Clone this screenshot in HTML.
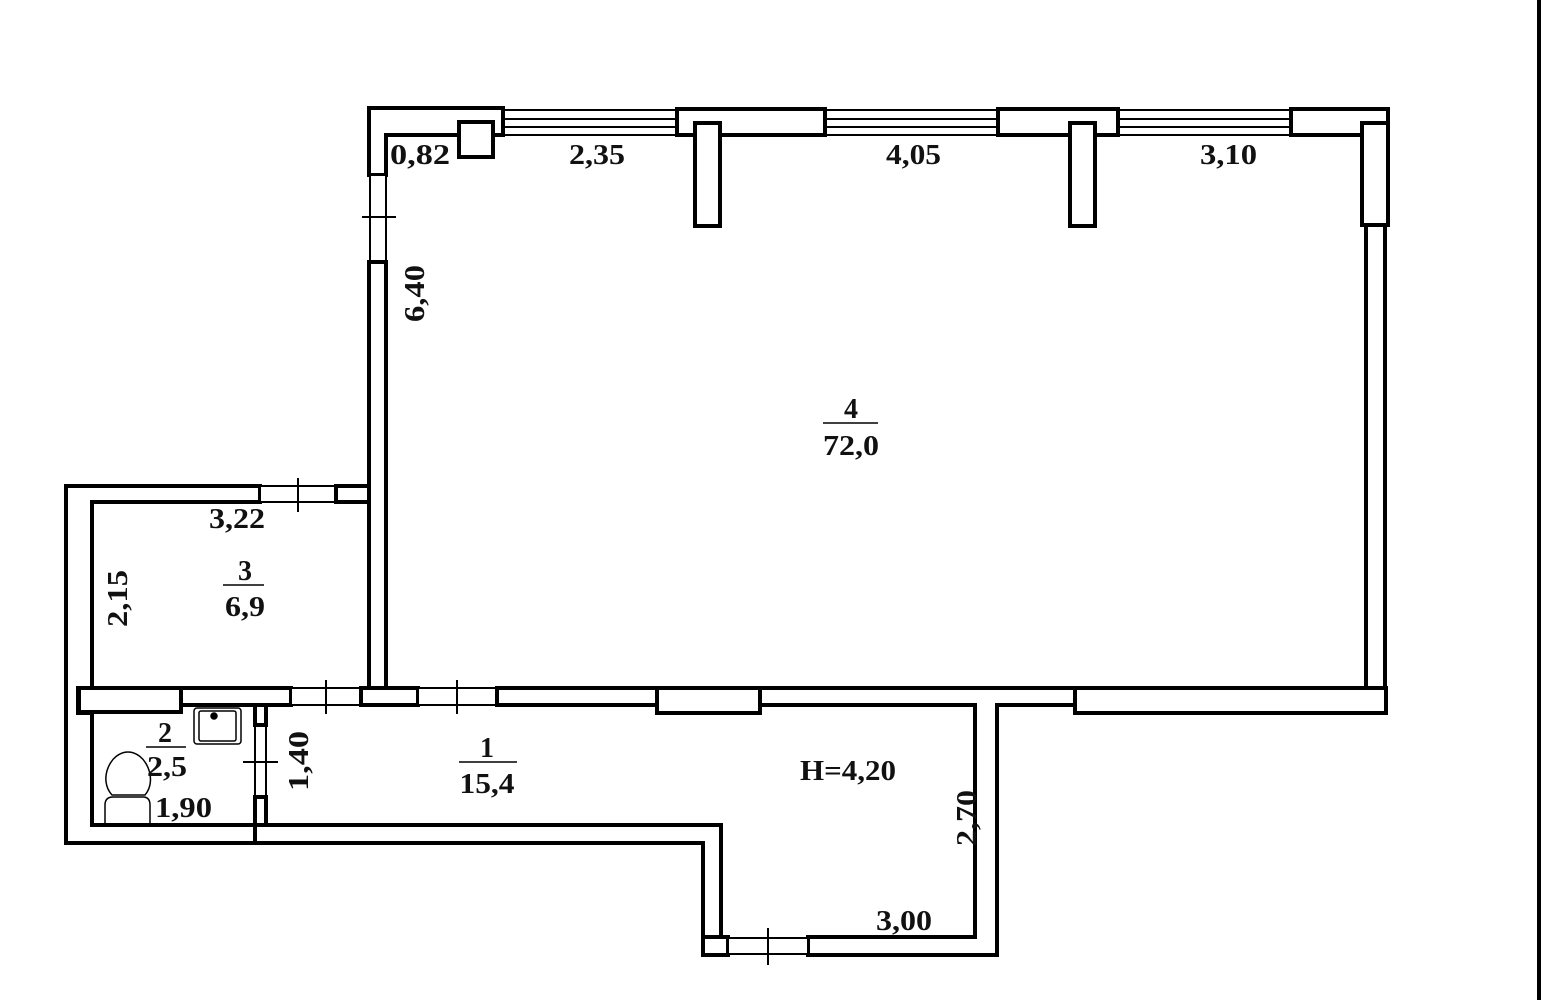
<!DOCTYPE html>
<html><head><meta charset="utf-8"><style>
html,body{margin:0;padding:0;background:#fff;}
svg{display:block}
text{font-family:"Liberation Serif",serif;font-weight:bold;font-size:28px;fill:#111;}
</style></head><body>
<svg width="1545" height="1000" viewBox="0 0 1545 1000">
<rect width="1545" height="1000" fill="#fff"/>
<g fill="#fff" stroke="#000" stroke-width="4">
<g stroke-width="2">
<rect x="503" y="110" width="174" height="25"/><line x1="503" y1="119" x2="677" y2="119"/><line x1="503" y1="127" x2="677" y2="127"/>
<rect x="825" y="110" width="172" height="25"/><line x1="825" y1="119" x2="997" y2="119"/><line x1="825" y1="127" x2="997" y2="127"/>
<rect x="1118" y="110" width="172" height="25"/><line x1="1118" y1="119" x2="1290" y2="119"/><line x1="1118" y1="127" x2="1290" y2="127"/>
</g>
<path d="M369 108 H503 V135 H386 V175 H369 Z"/>
<rect x="459" y="122" width="34" height="35"/>
<rect x="677" y="109" width="148" height="26"/>
<rect x="695" y="123" width="25" height="103"/>
<rect x="998" y="109" width="120" height="26"/>
<rect x="1070" y="123" width="25" height="103"/>
<rect x="1291" y="109" width="97" height="26"/>
<rect x="1362" y="123" width="26" height="102"/>
<g stroke-width="2"><rect x="370" y="175" width="16" height="87"/><line x1="362" y1="217" x2="396" y2="217"/></g>
<path d="M369 262 H386 V688 H369 Z"/>
<path d="M1366 225 H1385 V688 H1366 Z"/>
<path d="M66 486 H260 V502 H92 V688 H78 V713 H92 V825 H255 V843 H66 Z"/>
<g stroke-width="2"><rect x="260" y="486" width="76" height="16"/><line x1="298" y1="478" x2="298" y2="512"/></g>
<path d="M336 486 H369 V502 H336 Z"/>
<rect x="79" y="688" width="102" height="24"/>
<rect x="181" y="688" width="110" height="17"/>
<g stroke-width="2"><rect x="291" y="688" width="70" height="17"/><line x1="326" y1="680" x2="326" y2="714"/></g>
<rect x="361" y="688" width="57" height="17"/>
<g stroke-width="2"><rect x="418" y="688" width="79" height="17"/><line x1="457" y1="680" x2="457" y2="714"/></g>
<rect x="497" y="688" width="160" height="17"/>
<rect x="657" y="688" width="103" height="25"/>
<path d="M760 688 H1075 V705 H997 V955 H808 V937 H975 V705 H760 Z"/>
<rect x="1075" y="688" width="311" height="25"/>
<rect x="255" y="705" width="11" height="20"/>
<rect x="255" y="797" width="11" height="28"/>
<g stroke-width="2"><line x1="255" y1="725" x2="255" y2="797"/><line x1="266" y1="725" x2="266" y2="797"/><line x1="243" y1="762" x2="278" y2="762"/></g>
<path d="M255 825 H721 V955 H703 V843 H255 Z"/>
<rect x="703" y="937" width="25" height="18"/>
<g stroke-width="2"><rect x="728" y="938" width="80" height="16"/><line x1="768" y1="928" x2="768" y2="965"/></g>
</g>
<g fill="none" stroke="#000" stroke-width="1.5">
<rect x="194" y="708" width="47" height="36" rx="3"/>
<rect x="199" y="711" width="37" height="30" rx="2"/>
<circle cx="214" cy="716" r="3" fill="#000"/>
<path d="M112 795 C98 780 110 752 128 752 C146 752 158 780 145 795 Z"/>
<path d="M105 825 V805 Q105 797 113 797 H143 Q150 797 150 805 V825"/>
</g>
<line x1="1539" y1="0" x2="1539" y2="1000" stroke="#000" stroke-width="4"/>
<g lengthAdjust="spacingAndGlyphs">
<text x="390" y="164" textLength="60" lengthAdjust="spacingAndGlyphs">0,82</text>
<text x="569" y="164" textLength="56" lengthAdjust="spacingAndGlyphs">2,35</text>
<text x="886" y="164" textLength="55" lengthAdjust="spacingAndGlyphs">4,05</text>
<text x="1200" y="164" textLength="57" lengthAdjust="spacingAndGlyphs">3,10</text>
<text transform="translate(424,322) rotate(-90)" textLength="57" lengthAdjust="spacingAndGlyphs">6,40</text>
<text x="209" y="528" textLength="56" lengthAdjust="spacingAndGlyphs">3,22</text>
<text transform="translate(127,627) rotate(-90)" textLength="57" lengthAdjust="spacingAndGlyphs">2,15</text>
<text transform="translate(308,791) rotate(-90)" textLength="60" lengthAdjust="spacingAndGlyphs">1,40</text>
<text x="155" y="817" textLength="57" lengthAdjust="spacingAndGlyphs">1,90</text>
<text transform="translate(976,846) rotate(-90)" textLength="56" lengthAdjust="spacingAndGlyphs">2,70</text>
<text x="876" y="930" textLength="56" lengthAdjust="spacingAndGlyphs">3,00</text>
<text x="800" y="780" textLength="96" lengthAdjust="spacingAndGlyphs">H=4,20</text>
</g>
<g text-anchor="middle">
<text x="851" y="418">4</text><line x1="823" y1="423" x2="878" y2="423" stroke="#000" stroke-width="1.5"/><text x="851" y="455" textLength="56" lengthAdjust="spacingAndGlyphs">72,0</text>
<text x="245" y="580">3</text><line x1="223" y1="585" x2="264" y2="585" stroke="#000" stroke-width="1.5"/><text x="245" y="616" textLength="40" lengthAdjust="spacingAndGlyphs">6,9</text>
<text x="165" y="742">2</text><line x1="146" y1="747" x2="186" y2="747" stroke="#000" stroke-width="1.5"/><text x="167" y="776" textLength="40" lengthAdjust="spacingAndGlyphs">2,5</text>
<text x="487" y="757">1</text><line x1="459" y1="762" x2="517" y2="762" stroke="#000" stroke-width="1.5"/><text x="487" y="793" textLength="55" lengthAdjust="spacingAndGlyphs">15,4</text>
</g>
</svg>
</body></html>
